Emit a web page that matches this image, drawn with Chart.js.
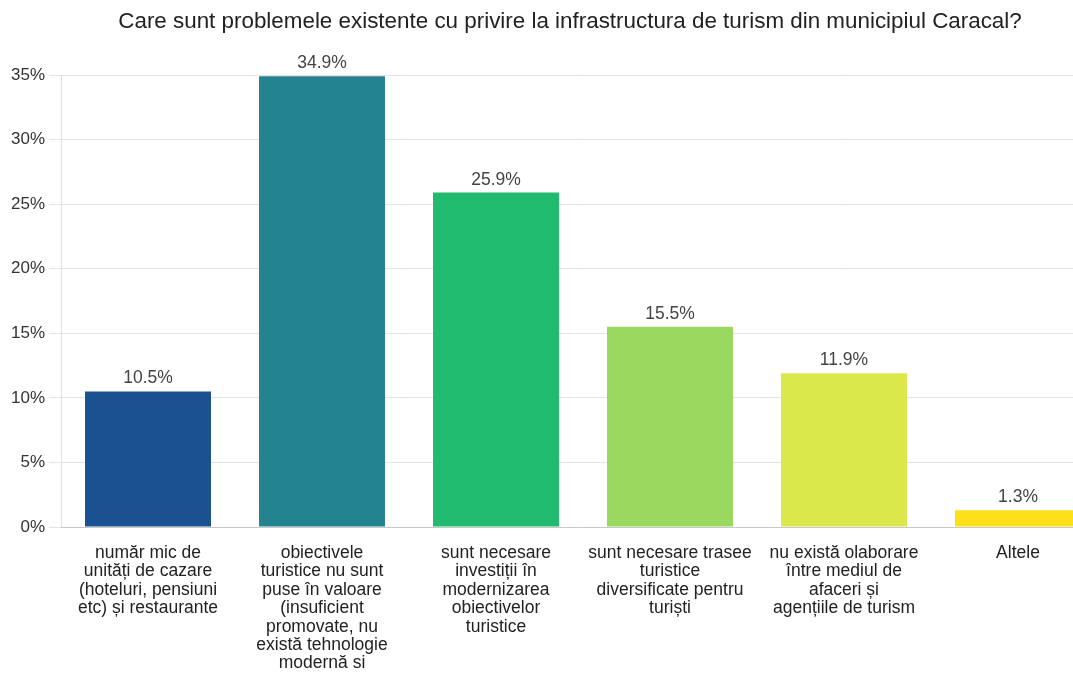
<!DOCTYPE html>
<html>
<head>
<meta charset="utf-8">
<script src="https://cdn.jsdelivr.net/npm/chart.js@4/dist/chart.umd.min.js"></script>
<style>
  html, body { margin: 0; padding: 0; background: #fff; overflow: hidden; }
  #wrap { width: 1073px; height: 679px; overflow: hidden; position: relative; }
  #chart { display: block; }
</style>
</head>
<body>
<div id="wrap"><canvas id="chart" width="1140" height="679"></canvas></div>
<script>
const titleText = "Care sunt problemele existente cu privire la infrastructura de turism din municipiul Caracal?";
const categories = [
    ["număr mic de", "unități de cazare", "(hoteluri, pensiuni", "etc) și restaurante"],
    ["obiectivele", "turistice nu sunt", "puse în valoare", "(insuficient", "promovate, nu", "există tehnologie", "modernă si"],
    ["sunt necesare", "investiții în", "modernizarea", "obiectivelor", "turistice"],
    ["sunt necesare trasee", "turistice", "diversificate pentru", "turiști"],
    ["nu există olaborare", "între mediul de", "afaceri și", "agențiile de turism"],
    ["Altele"]
];
const values = [10.5, 34.9, 25.9, 15.5, 11.9, 1.3];
const barColors = ["#1a5291", "#23848f", "#20bb6e", "#9ad85f", "#dbe84c", "#fde01a"];
const yTicks = [0, 5, 10, 15, 20, 25, 30, 35];

const FONT = "'Liberation Sans', Arial, sans-serif";

// title drawn by hand so it can sit where the original one is (a bit right of the canvas centre)
const titleDraw = {
    id: "titleDraw",
    afterDraw(chart) {
        const ctx = chart.ctx;
        ctx.save();
        ctx.font = "22.4px " + FONT;
        ctx.fillStyle = "#222";
        ctx.textAlign = "center";
        ctx.textBaseline = "middle";
        ctx.fillText(titleText, 570, 22);
        ctx.restore();
    }
};

const valueLabels = {
    id: "valueLabels",
    afterDatasetsDraw(chart) {
        const ctx = chart.ctx;
        const meta = chart.getDatasetMeta(0);
        ctx.save();
        ctx.font = "17.5px " + FONT;
        ctx.fillStyle = "#444";
        ctx.textAlign = "center";
        ctx.textBaseline = "bottom";
        meta.data.forEach((bar, i) => {
            ctx.fillText(values[i].toFixed(1) + "%", bar.x, bar.y - 4);
        });
        ctx.restore();
    }
};

new Chart(document.getElementById("chart"), {
    type: "bar",
    data: {
        labels: categories,
        datasets: [{
            data: values,
            backgroundColor: barColors,
            borderWidth: 0,
            categoryPercentage: 1,
            barPercentage: 0.724
        }]
    },
    options: {
        responsive: false,
        animation: false,
        layout: { padding: { left: 0, right: 35, top: 75, bottom: 0 } },
        plugins: {
            legend: { display: false },
            tooltip: { enabled: false },
            title: { display: false }
        },
        scales: {
            y: {
                min: 0,
                max: 35,
                afterFit(scale) { scale.width = 61; },
                afterBuildTicks(scale) { scale.ticks = yTicks.map(v => ({ value: v })); },
                ticks: {
                    color: "#333",
                    padding: 4,
                    font: { family: FONT, size: 17 },
                    callback: v => v + "%"
                },
                grid: { color: "#e3e3e3", tickLength: 12 },
                border: { color: "#e0e0e0" }
            },
            x: {
                afterFit(scale) { scale.height = 152; },
                ticks: {
                    color: "#222",
                    padding: 9,
                    maxRotation: 0,
                    autoSkip: false,
                    font: { family: FONT, size: 17.5, lineHeight: 1.05 }
                },
                grid: { display: false },
                border: { color: "#c8c8c8" }
            }
        }
    },
    plugins: [valueLabels, titleDraw]
});
</script>
</body>
</html>
